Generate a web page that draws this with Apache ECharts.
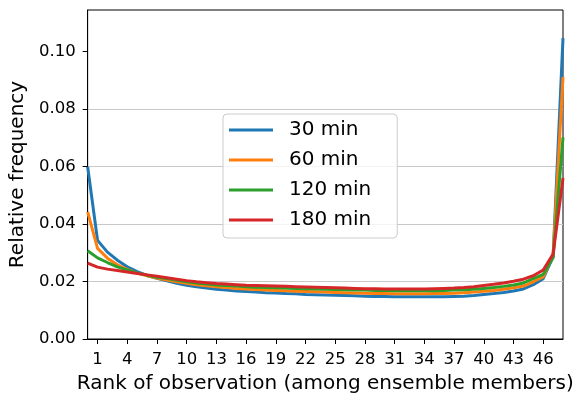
<!DOCTYPE html>
<html>
<head>
<meta charset="utf-8">
<script src="https://cdn.jsdelivr.net/npm/echarts@6/dist/echarts.min.js"></script>
<style>
  html, body { margin: 0; padding: 0; background: #fff; }
  #chart { width: 579px; height: 399px; }
</style>
</head>
<body>
<div id="chart"></div>
<script>
// Rank histogram: relative frequency of the observation's rank among 48 ensemble members
const seriesNames = ['30 min', '60 min', '120 min', '180 min'];
const seriesColors = ['#1f77b4', '#ff7f0e', '#2ca02c', '#d62728'];

const rankTicks = [1, 4, 7, 10, 13, 16, 19, 22, 25, 28, 31, 34, 37, 40, 43, 46];
const yTicks = [0, 0.02, 0.04, 0.06, 0.08, 0.10];

const freq30 = [
  0.0599, 0.0343, 0.0302, 0.0274, 0.0251, 0.0234, 0.0221, 0.0211, 0.0202, 0.0194,
  0.0187, 0.0182, 0.0177, 0.0173, 0.0170, 0.0167, 0.0165, 0.0163, 0.0161, 0.0160,
  0.0158, 0.0157, 0.0155, 0.0154, 0.0153, 0.0152, 0.0151, 0.0150, 0.0149, 0.0148,
  0.0148, 0.0147, 0.0147, 0.0147, 0.0147, 0.0147, 0.0147, 0.0148, 0.0149, 0.0151,
  0.0155, 0.0158, 0.0162, 0.0167, 0.0174, 0.0189, 0.0210, 0.0286, 0.1046
];
const freq60 = [
  0.0442, 0.0315, 0.0281, 0.0258, 0.0242, 0.0229, 0.0220, 0.0212, 0.0205, 0.0199,
  0.0194, 0.0189, 0.0185, 0.0182, 0.0179, 0.0176, 0.0174, 0.0172, 0.0170, 0.0169,
  0.0168, 0.0166, 0.0165, 0.0164, 0.0163, 0.0162, 0.0161, 0.0160, 0.0159, 0.0158,
  0.0158, 0.0157, 0.0157, 0.0157, 0.0157, 0.0158, 0.0158, 0.0159, 0.0161, 0.0163,
  0.0166, 0.0169, 0.0173, 0.0178, 0.0184, 0.0199, 0.0216, 0.0290, 0.0911
];
const freq120 = [
  0.0307, 0.0282, 0.0266, 0.0251, 0.0240, 0.0230, 0.0222, 0.0215, 0.0210, 0.0204,
  0.0199, 0.0195, 0.0191, 0.0188, 0.0186, 0.0184, 0.0182, 0.0180, 0.0179, 0.0178,
  0.0177, 0.0176, 0.0175, 0.0174, 0.0173, 0.0172, 0.0171, 0.0170, 0.0170, 0.0169,
  0.0169, 0.0168, 0.0168, 0.0168, 0.0168, 0.0168, 0.0169, 0.0170, 0.0171, 0.0173,
  0.0176, 0.0179, 0.0183, 0.0188, 0.0195, 0.0210, 0.0225, 0.0283, 0.0701
];
const freq180 = [
  0.0264, 0.0250, 0.0243, 0.0238, 0.0233, 0.0228, 0.0223, 0.0218, 0.0213, 0.0208,
  0.0203, 0.0199, 0.0196, 0.0193, 0.0191, 0.0189, 0.0187, 0.0186, 0.0185, 0.0184,
  0.0183, 0.0182, 0.0181, 0.0180, 0.0179, 0.0178, 0.0177, 0.0176, 0.0175, 0.0175,
  0.0174, 0.0174, 0.0174, 0.0174, 0.0174, 0.0175, 0.0176, 0.0177, 0.0179, 0.0182,
  0.0186, 0.0190, 0.0195, 0.0201, 0.0208, 0.0220, 0.0240, 0.0295, 0.0560
];

const allFreq = [freq30, freq60, freq120, freq180];
const FONT = "'DejaVu Sans', sans-serif";

const chart = echarts.init(document.getElementById('chart'), null, { renderer: 'canvas' });

chart.setOption({
  animation: false,
  backgroundColor: '#ffffff',
  textStyle: { fontFamily: FONT, color: '#000' },
  grid: {
    left: 85, right: 16, top: 10, bottom: 58,
    show: true, borderColor: '#000', borderWidth: 1, backgroundColor: 'transparent'
  },
  legend: {
    orient: 'vertical',
    left: 223, top: 114,
    padding: [5, 26, 7, 6],
    itemWidth: 44, itemHeight: 14, itemGap: 8,
    backgroundColor: 'rgba(255,255,255,0.8)',
    borderColor: '#cccccc', borderWidth: 1, borderRadius: 4,
    textStyle: { fontFamily: FONT, fontSize: 20, lineHeight: 22, color: '#000', padding: [0, 0, 0, 11] },
    data: seriesNames.map(n => ({ name: n, icon: 'path://M0,0 L44,0 L44,3 L0,3 Z' }))
  },
  xAxis: {
    type: 'value',
    min: 0, max: 48,
    name: 'Rank of observation (among ensemble members)',
    nameLocation: 'middle', nameGap: 35,
    nameTextStyle: { fontFamily: FONT, fontSize: 20, color: '#000' },
    axisLine: { lineStyle: { color: '#000', width: 1 } },
    axisTick: { show: true, customValues: rankTicks, length: 5, lineStyle: { color: '#000', width: 1 } },
    axisLabel: { customValues: rankTicks, fontFamily: FONT, fontSize: 16.5, color: '#000', margin: 12 },
    splitLine: { show: false }
  },
  yAxis: {
    type: 'value',
    min: 0, max: 0.1144, interval: 0.02,
    name: 'Relative frequency',
    nameLocation: 'middle', nameGap: 55,
    nameTextStyle: { fontFamily: FONT, fontSize: 20, color: '#000' },
    axisLine: { show: true, lineStyle: { color: '#000', width: 1 } },
    axisTick: { show: true, customValues: yTicks, length: 5, lineStyle: { color: '#000', width: 1 } },
    axisLabel: {
      customValues: yTicks,
      fontFamily: FONT, fontSize: 16.5, color: '#000', margin: 12,
      formatter: v => v.toFixed(2)
    },
    splitLine: { show: true, showMinLine: false, showMaxLine: false, lineStyle: { color: '#c8c8c8', width: 1.2 } }
  },
  series: allFreq.map((arr, i) => ({
    name: seriesNames[i],
    type: 'line',
    symbol: 'none',
    color: seriesColors[i],
    lineStyle: { width: 3, color: seriesColors[i] },
    z: 2 + i,
    data: arr.map((v, k) => [k, v])
  }))
});
</script>
</body>
</html>
